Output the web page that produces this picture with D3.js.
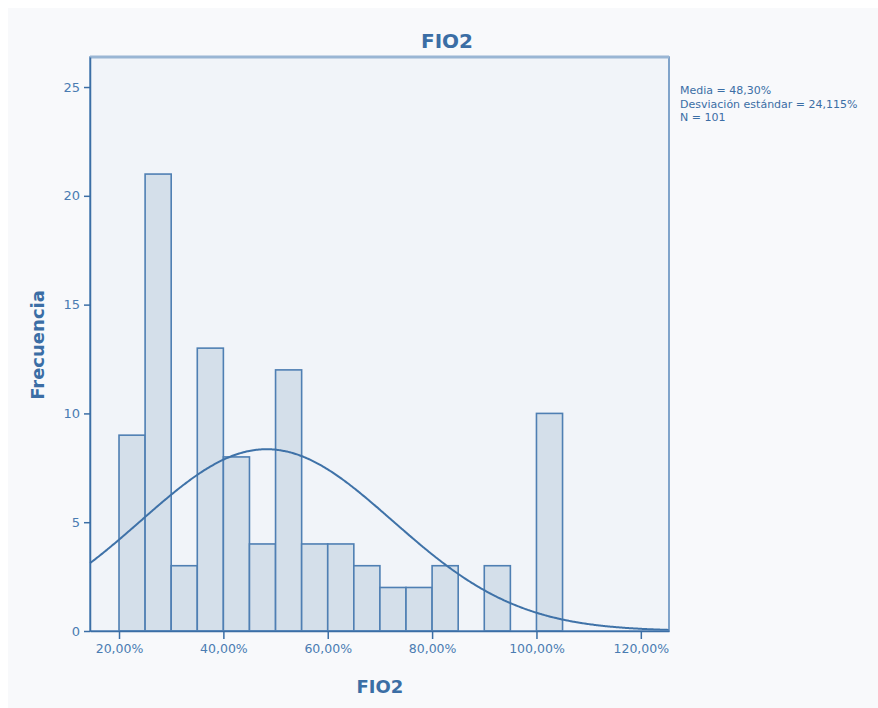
<!DOCTYPE html>
<html>
<head>
<meta charset="utf-8">
<script src="https://cdn.jsdelivr.net/npm/d3@7/dist/d3.min.js"></script>
<style>
  html, body { margin: 0; padding: 0; background: #ffffff; }
  svg { display: block; }
  text { font-family: "DejaVu Sans", Arial, sans-serif; }
</style>
</head>
<body>
<svg id="chart" width="878" height="708"></svg>
<script>
// Histogram bins of FIO2 (%), 5-point wide
const binStarts = [20, 25, 30, 35, 40, 45, 50, 55, 60, 65, 70, 75, 80, 85, 90, 95, 100];
const binCounts = [9, 21, 3, 13, 8, 4, 12, 4, 4, 3, 2, 2, 3, 0, 3, 0, 10];
const binWidth = 5;

const xTicks = [20, 40, 60, 80, 100, 120];
const yTicks = [0, 5, 10, 15, 20, 25];

const mean = 48.30, sd = 24.115, n = 101;
const statLines = ["Media = 48,30%", "Desviación estándar = 24,115%", "N = 101"];

const ink = "#3b6ea5";
const svg = d3.select("#chart");

// outer panel
svg.append("rect").attr("x", 8).attr("y", 8).attr("width", 870).attr("height", 700)
  .attr("fill", "#f8f9fb");

const plot = { left: 90, right: 669, top: 57, bottom: 631 };

const x = d3.scaleLinear().domain([14.44, 125.4]).range([plot.left, plot.right]);
const y = d3.scaleLinear().domain([0, 26.38]).range([plot.bottom, plot.top]);

// plot background
svg.append("rect")
  .attr("x", plot.left).attr("y", plot.top)
  .attr("width", plot.right - plot.left).attr("height", plot.bottom - plot.top)
  .attr("fill", "#f1f4f9");

// bars
svg.append("g").selectAll("rect")
  .data(binStarts.map((s, i) => ({ s, c: binCounts[i] })).filter(d => d.c > 0))
  .join("rect")
  .attr("x", d => x(d.s))
  .attr("y", d => y(d.c))
  .attr("width", d => x(d.s + binWidth) - x(d.s))
  .attr("height", d => y(0) - y(d.c))
  .attr("fill", "#d4dfea")
  .attr("stroke", "#4f7fb3")
  .attr("stroke-width", 1.6);

// normal curve scaled to counts
const scale = n * binWidth / (sd * Math.sqrt(2 * Math.PI));
const pts = d3.range(0, 401).map(i => {
  const v = 14.44 + (125.4 - 14.44) * i / 400;
  const z = (v - mean) / sd;
  return [v, scale * Math.exp(-0.5 * z * z)];
});
svg.append("path")
  .datum(pts)
  .attr("fill", "none")
  .attr("stroke", "#3f72a8")
  .attr("stroke-width", 2)
  .attr("d", d3.line().x(d => x(d[0])).y(d => y(d[1])).curve(d3.curveBasis));

// frame
svg.append("rect")
  .attr("x", plot.left).attr("y", plot.top)
  .attr("width", plot.right - plot.left).attr("height", plot.bottom - plot.top)
  .attr("fill", "none").attr("stroke", "#5a88bb").attr("stroke-width", 1.5);
svg.append("line")
  .attr("x1", plot.left).attr("x2", plot.right).attr("y1", plot.top).attr("y2", plot.top)
  .attr("stroke", "#9ab6d4").attr("stroke-width", 3);

// x axis
const fmtPct = v => v.toFixed(2).replace(".", ",") + "%";
const xAxis = svg.append("g").attr("transform", `translate(0,${plot.bottom})`)
  .call(d3.axisBottom(x).tickValues(xTicks).tickFormat(fmtPct).tickSize(8).tickSizeOuter(0));
xAxis.select(".domain").attr("stroke", ink).attr("stroke-width", 1.5);
xAxis.selectAll(".tick line").attr("stroke", ink).attr("stroke-width", 1.5);
xAxis.selectAll(".tick text").attr("fill", "#4a7cb2").attr("font-size", 12.5)
  .attr("dy", "0.9em");

// y axis
const yAxis = svg.append("g").attr("transform", `translate(${plot.left},0)`)
  .call(d3.axisLeft(y).tickValues(yTicks).tickSize(6).tickSizeOuter(0));
yAxis.select(".domain").attr("stroke", ink).attr("stroke-width", 1.5);
yAxis.selectAll(".tick line").attr("stroke", ink).attr("stroke-width", 1.5);
yAxis.selectAll(".tick text").attr("fill", "#4a7cb2").attr("font-size", 13).attr("dx", "-1px");

// titles
svg.append("text").attr("x", 447).attr("y", 48).attr("text-anchor", "middle")
  .attr("fill", ink).attr("font-size", 20).attr("font-weight", "bold").text("FIO2");
svg.append("text").attr("x", 380).attr("y", 693).attr("text-anchor", "middle")
  .attr("fill", ink).attr("font-size", 18).attr("font-weight", "bold").text("FIO2");
svg.append("text").attr("transform", "translate(44,345) rotate(-90)").attr("text-anchor", "middle")
  .attr("fill", ink).attr("font-size", 18).attr("font-weight", "bold").text("Frecuencia");

// summary statistics
svg.append("g").selectAll("text").data(statLines).join("text")
  .attr("x", 680).attr("y", (d, i) => 94 + i * 13.5)
  .attr("fill", ink).attr("font-size", 11).text(d => d);
</script>
</body>
</html>
